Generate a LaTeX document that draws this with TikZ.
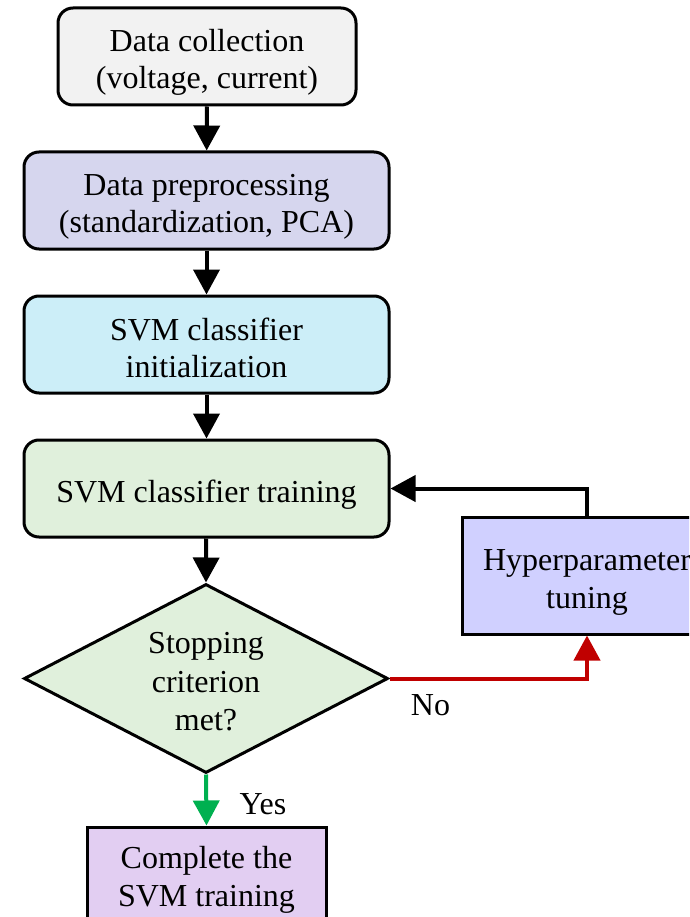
\documentclass[tikz,border=0pt]{standalone}
\usepackage{fontspec}
\setmainfont{Liberation Serif}
\usetikzlibrary{arrows.meta,shapes.geometric}
\definecolor{cgray}{HTML}{F2F2F2}
\definecolor{cprep}{HTML}{D6D6EE}
\definecolor{ccyan}{HTML}{CCEEF8}
\definecolor{cgreen}{HTML}{E0F0DC}
\definecolor{chyper}{HTML}{D0D0FF}
\definecolor{cpurple}{HTML}{E2CEF2}
\definecolor{cred}{HTML}{C00000}
\definecolor{cyes}{HTML}{00B050}
\begin{document}
\begin{tikzpicture}[x=1pt,y=-1pt,
  procbox/.style={draw=black,line width=3pt,rounded corners=15pt,
    minimum height=97pt,inner sep=0pt},
  sqbox/.style={draw=black,line width=3pt,inner sep=0pt},
  txt/.style={font=\fontsize{32}{37}\selectfont,inner sep=0pt,anchor=base,yshift=-2pt},
  flowarrow/.style={line width=4pt,-{Triangle[width=26pt,length=25pt]}}]
\useasboundingbox (0,0) rectangle (689,917);
\clip (0,0) rectangle (689,917);
% boxes
\node[procbox,fill=cgray,minimum width=298pt] (b1) at (207,56.5) {};
\node[procbox,fill=cprep,minimum width=365pt] (b2) at (206.5,200.5) {};
\node[procbox,fill=ccyan,minimum width=365pt] (b3) at (206.5,344.5) {};
\node[procbox,fill=cgreen,minimum width=365pt] (b4) at (206.5,488.5) {};
\node[diamond,draw=black,line width=3pt,fill=cgreen,minimum width=364pt,minimum height=189pt,inner sep=0pt] (d) at (206,678.5) {};
\node[sqbox,fill=chyper,minimum width=250pt,minimum height=117pt] (h) at (587,575.5) {};
\node[sqbox,fill=cpurple,minimum width=239pt,minimum height=97pt] (e) at (206.5,875.5) {};
% texts
\node[txt] (b1a) at (207,50) {Data collection};
\node[txt] (b1b) at (207,87) {(voltage, current)};
\node[txt] (b2a) at (206.5,194) {Data preprocessing};
\node[txt] (b2b) at (206.5,231) {(standardization, PCA)};
\node[txt] (b3a) at (206.5,338) {SVM classifier};
\node[txt] (b3b) at (206.5,375) {initialization};
\node[txt] (b4a) at (206.5,500) {SVM classifier training};
\node[txt] (da) at (206,651) {Stopping};
\node[txt] (db) at (206,690) {criterion};
\node[txt] (dc) at (206,728) {met?};
\node[txt] (ha) at (587,568) {Hyperparameter};
\node[txt] (hb) at (587,606) {tuning};
\node[txt] (ea) at (206.5,866) {Complete the};
\node[txt] (eb) at (206.5,904) {SVM training};
% connectors
\draw[flowarrow] (b1) -- (b2);
\draw[flowarrow] (b2) -- (b3);
\draw[flowarrow] (b3) -- (b4);
\draw[flowarrow] (b4) -- (d.north);
\draw[flowarrow,cred] (d.east) -| (h.south);
\draw[flowarrow] (h.north) |- (b4.east);
\draw[flowarrow,cyes] (d.south) -- (e.north);
% labels
\node[txt] (no) at (430.5,713) {No};
\node[txt] (yes) at (263,812) {Yes};
\end{tikzpicture}
\end{document}
